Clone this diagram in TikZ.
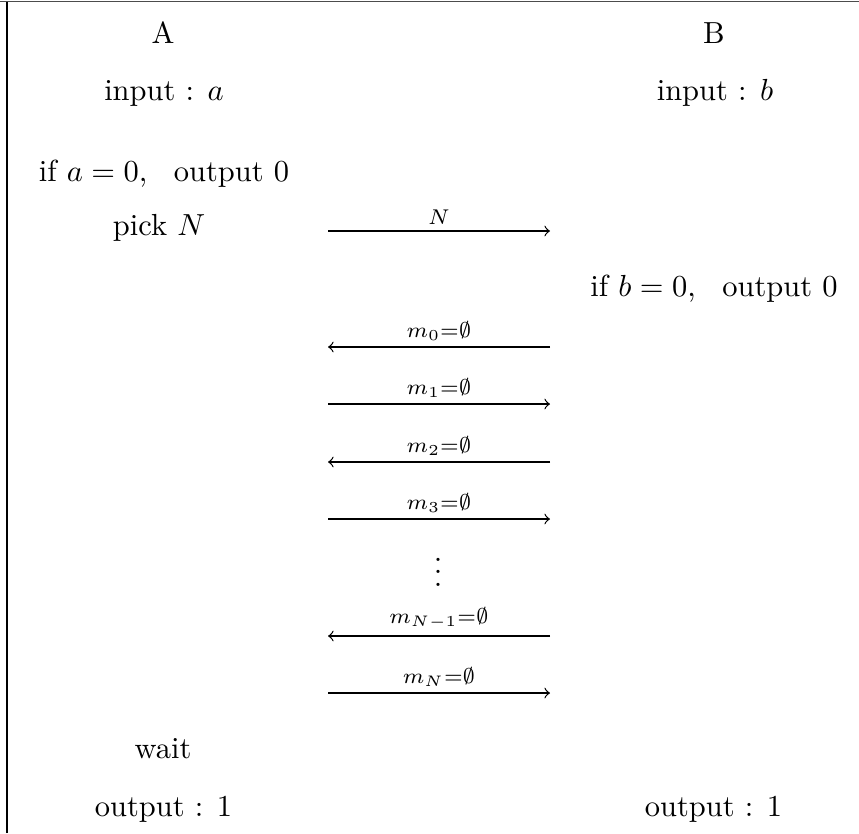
\documentclass[tikz,border=0pt]{standalone}
\begin{document}
\begin{tikzpicture}[x=0.328pt,y=-0.328pt,
  txt/.style={anchor=base,inner sep=0pt},
  msg/.style={->,line width=0.4pt},
  lab/.style={midway,above,inner sep=2pt}]
\useasboundingbox (0,0) rectangle (859,833);
% frame
\coordinate (fTL) at (0,1.5);
\coordinate (fTR) at (859,1.5);
\coordinate (fLT) at (7,1.5);
\coordinate (fBL) at (7,833);
\draw[line width=0.4pt,black!70] (fTL) -- (fTR);
\draw[line width=0.4pt] (fBL) -- (fLT);
% column A
\node[txt] (A) at (163,43) {A};
\node[txt] (ina) at (164,100) {input : $a$};
\node[txt] (ifa) at (164,181) {if $a=0$,\hspace{8.7pt}output 0};
\node[txt] (pick) at (159,235) {pick $N$};
\node[txt] (wait) at (163,758) {wait};
\node[txt] (outa) at (163.5,816) {output : 1};
% column B
\node[txt] (B) at (714,43) {B};
\node[txt] (inb) at (715,100) {input : $b$};
\node[txt] (ifb) at (714,296) {if $b=0$,\hspace{8.7pt}output 0};
\node[txt] (outb) at (713.5,816) {output : 1};
% message endpoints
\foreach \n/\y in {0/231,1/347,2/404,3/462,4/519,5/636,6/693}{
  \coordinate (L\n) at (328,\y);
  \coordinate (R\n) at (550,\y);
}
\draw[msg] (L0) -- (R0) node[lab] {$\scriptstyle N$};
\draw[msg] (R1) -- (L1) node[lab] {$\scriptstyle m_0=\emptyset$};
\draw[msg] (L2) -- (R2) node[lab] {$\scriptstyle m_1=\emptyset$};
\draw[msg] (R3) -- (L3) node[lab] {$\scriptstyle m_2=\emptyset$};
\draw[msg] (L4) -- (R4) node[lab] {$\scriptstyle m_3=\emptyset$};
\node[txt] (dots) at (438,586) {$\vdots$};
\draw[msg] (R5) -- (L5) node[lab] {$\scriptstyle m_{N-1}=\emptyset$};
\draw[msg] (L6) -- (R6) node[lab] {$\scriptstyle m_N=\emptyset$};
\end{tikzpicture}
\end{document}
